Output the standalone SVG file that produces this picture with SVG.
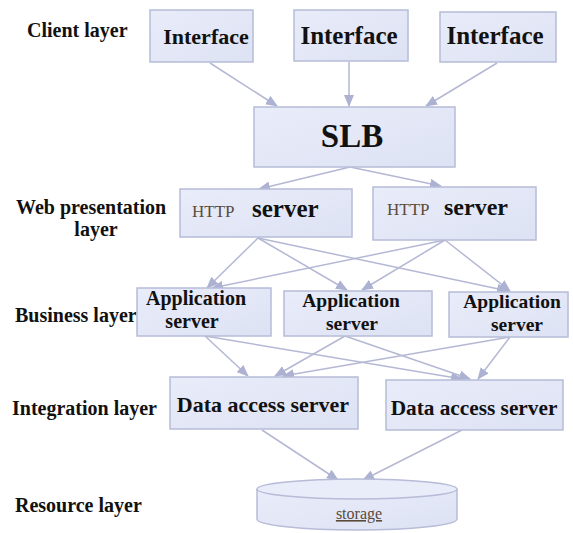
<svg xmlns="http://www.w3.org/2000/svg" width="573" height="533" viewBox="0 0 573 533" font-family="'Liberation Serif', serif">
<defs>
<linearGradient id="boxfill" x1="0" y1="0" x2="1" y2="1">
<stop offset="0" stop-color="#e9ecf9"/>
<stop offset="1" stop-color="#dde2f4"/>
</linearGradient>
<marker id="arr" viewBox="0 0 12 10" refX="11" refY="5" markerWidth="12" markerHeight="10" markerUnits="userSpaceOnUse" orient="auto">
<path d="M0,0 L12,5 L0,10 Z" fill="#aeb2d2"/>
</marker>
<style>
.box{fill:url(#boxfill);stroke:#b7bcd8;stroke-width:1.5}
.lbl{font-weight:bold;fill:#111}
.lay{font-weight:bold;font-size:20px;fill:#111}
.http{font-size:17px;fill:#5a4a3a}
.con line{stroke:#b4b8d4;stroke-width:1.5;marker-end:url(#arr)}
</style>
</defs>
<rect width="573" height="533" fill="#ffffff"/>
<g id="layer-labels">
<text class="lay" x="27" y="37">Client layer</text>
<text class="lay" x="16" y="214">Web presentation</text>
<text class="lay" x="96" y="236" text-anchor="middle">layer</text>
<text class="lay" x="15" y="322">Business layer</text>
<text class="lay" x="12" y="415">Integration layer</text>
<text class="lay" x="15" y="512">Resource layer</text>
</g>
<g id="connectors" class="con">
<line x1="210" y1="63" x2="277" y2="106"/>
<line x1="349" y1="62" x2="349" y2="106"/>
<line x1="497" y1="63" x2="426" y2="106"/>
<line x1="350" y1="167" x2="259" y2="189"/>
<line x1="350" y1="167" x2="441" y2="186"/>
<line x1="258" y1="238" x2="207" y2="288"/>
<line x1="258" y1="238" x2="347" y2="290"/>
<line x1="258" y1="238" x2="508" y2="291"/>
<line x1="445" y1="240" x2="212" y2="288"/>
<line x1="445" y1="240" x2="362" y2="290"/>
<line x1="445" y1="240" x2="510" y2="291"/>
<line x1="205" y1="336" x2="248" y2="376"/>
<line x1="205" y1="336" x2="462" y2="379"/>
<line x1="345" y1="336" x2="275" y2="376"/>
<line x1="345" y1="336" x2="470" y2="379"/>
<line x1="510" y1="337" x2="283" y2="376"/>
<line x1="510" y1="337" x2="478" y2="379"/>
<line x1="262" y1="430" x2="338" y2="480"/>
<line x1="462" y1="430" x2="363" y2="480"/>
</g>
<g id="interface-1">
<rect class="box" x="150" y="10" width="103" height="52"/>
<text class="lbl" x="206" y="44" font-size="22" text-anchor="middle">Interface</text>
</g>
<g id="interface-2">
<rect class="box" x="294" y="10" width="114" height="51"/>
<text class="lbl" x="349" y="44" font-size="25" text-anchor="middle">Interface</text>
</g>
<g id="interface-3">
<rect class="box" x="440" y="12" width="116" height="50"/>
<text class="lbl" x="495" y="44" font-size="25" text-anchor="middle">Interface</text>
</g>
<g id="slb">
<rect class="box" x="254" y="107" width="201" height="60"/>
<text class="lbl" x="352" y="147" font-size="33" text-anchor="middle">SLB</text>
</g>
<g id="http-server-1">
<rect class="box" x="180" y="189" width="172" height="48"/>
<text class="http" x="192" y="217">HTTP</text>
<text class="lbl" x="252" y="217" font-size="25">server</text>
</g>
<g id="http-server-2">
<rect class="box" x="373" y="187" width="163" height="53"/>
<text class="http" x="387" y="215">HTTP</text>
<text class="lbl" x="444" y="215" font-size="24">server</text>
</g>
<g id="app-server-1">
<rect class="box" x="137" y="288" width="134" height="48"/>
<text class="lbl" x="196" y="305" font-size="20" text-anchor="middle">Application</text>
<text class="lbl" x="192" y="328" font-size="20" text-anchor="middle">server</text>
</g>
<g id="app-server-2">
<rect class="box" x="284" y="291" width="148" height="45"/>
<text class="lbl" x="351" y="307" font-size="19.5" text-anchor="middle">Application</text>
<text class="lbl" x="352" y="330" font-size="19.5" text-anchor="middle">server</text>
</g>
<g id="app-server-3">
<rect class="box" x="449" y="292" width="119" height="45"/>
<text class="lbl" x="512" y="308" font-size="19.5" text-anchor="middle">Application</text>
<text class="lbl" x="517" y="331" font-size="19.5" text-anchor="middle">server</text>
</g>
<g id="data-access-1">
<rect class="box" x="170" y="377" width="188" height="52"/>
<text class="lbl" x="263" y="412" font-size="22" text-anchor="middle">Data access server</text>
</g>
<g id="data-access-2">
<rect class="box" x="386" y="380" width="177" height="50"/>
<text class="lbl" x="474" y="415" font-size="21.3" text-anchor="middle">Data access server</text>
</g>
<g id="storage">
<path d="M257,489 L257,519 A100,11 0 0 0 457,519 L457,489" fill="url(#boxfill)" stroke="#b7bcd8" stroke-width="1.5"/>
<ellipse cx="357" cy="489" rx="100" ry="10" fill="#e9ecf9" stroke="#b7bcd8" stroke-width="1.5"/>
<text x="359" y="519" font-size="16" fill="#5a4a3a" text-anchor="middle" text-decoration="underline">storage</text>
</g>
</svg>
